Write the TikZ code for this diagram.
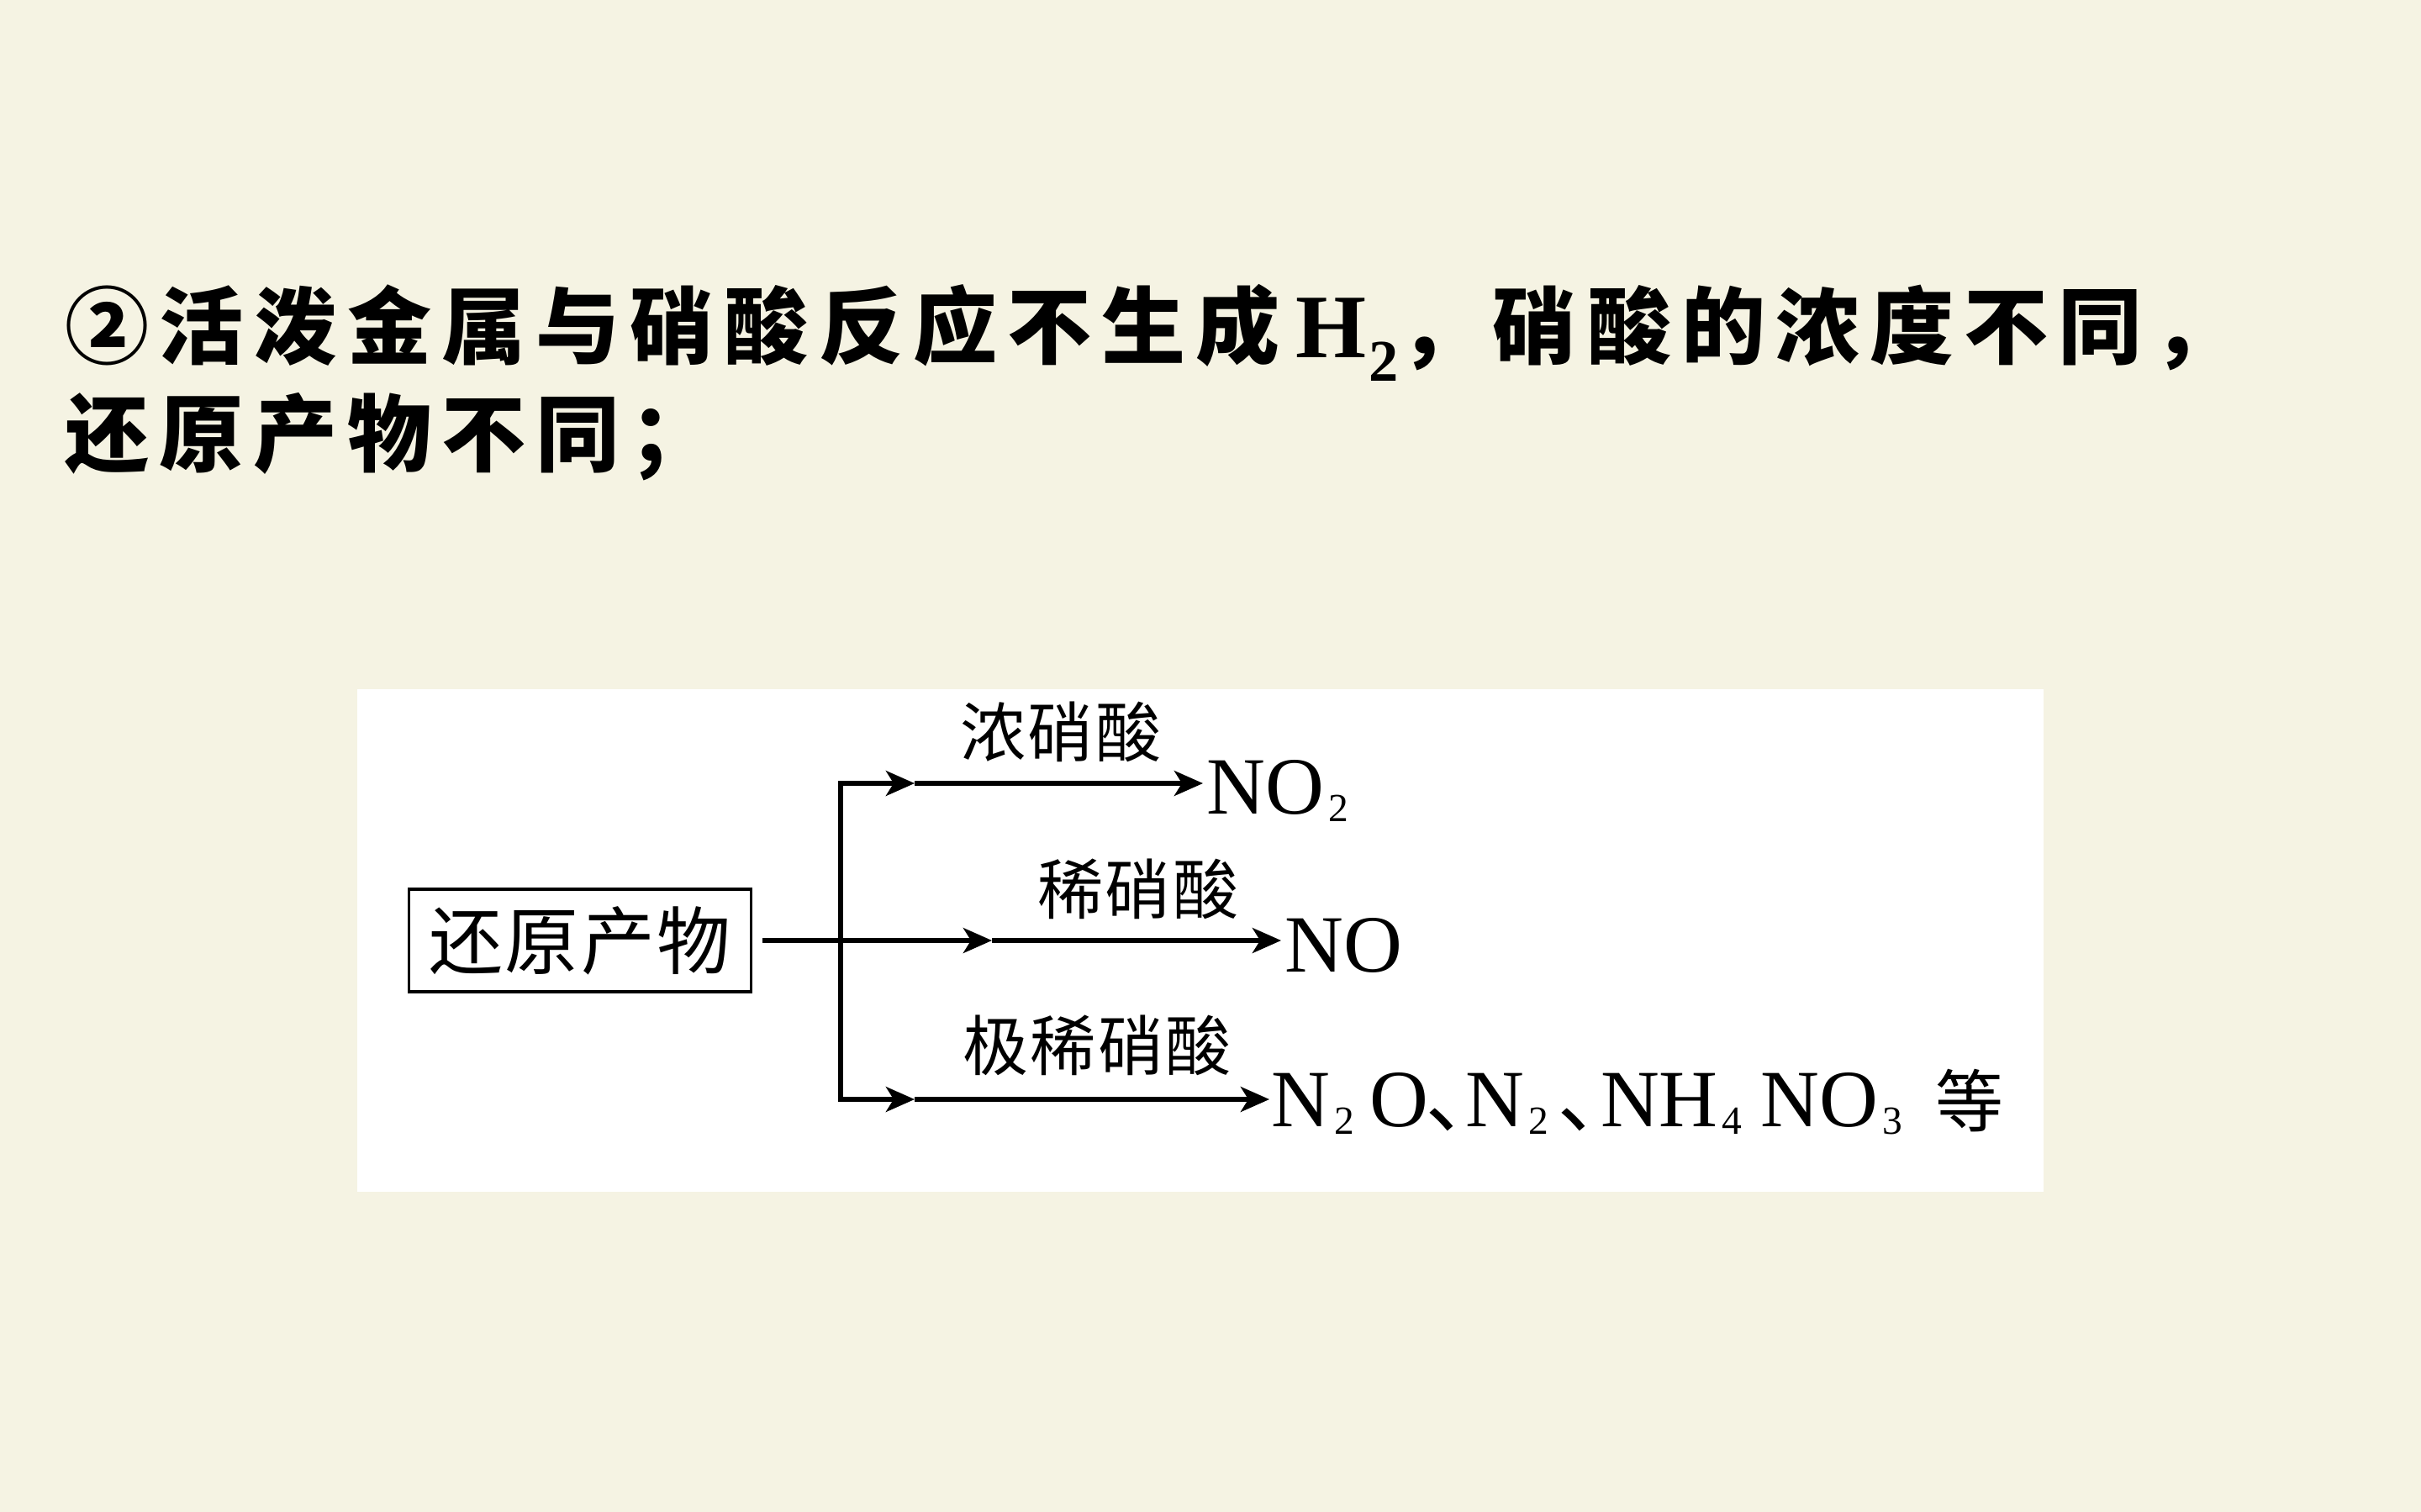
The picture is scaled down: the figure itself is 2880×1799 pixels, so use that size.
\documentclass[tikz,border=0pt]{standalone}
\usepackage{fontspec}
\setmainfont{Liberation Serif}
\newfontfamily\cjk{Noto Sans CJK SC}
\newfontfamily\cjkT[LetterSpace=12,BoldFont={Noto Sans CJK SC Black}]{Noto Sans CJK SC}
\newfontfamily\cjkL[LetterSpace=3]{Noto Sans CJK SC}
\usetikzlibrary{arrows.meta}
\definecolor{bgcream}{RGB}{245,243,227}
\newcommand\chsub[1]{\kern1.5pt\raisebox{-2.6pt}{\fontsize{13.5}{14}\selectfont #1}}
\tikzset{
  ln/.style={line width=1.45pt},
  tipped/.style={ln,-{Stealth[length=9.7pt,width=8.5pt,inset=2.6pt]}},
  lbl/.style={inner sep=0pt,font=\cjkL\fontsize{22.2}{24}\selectfont},
  chem/.style={inner sep=0pt,anchor=base west,font=\fontsize{27.5}{30}\selectfont},
  ttl/.style={inner sep=0pt,anchor=base west}
}
\begin{document}
\begin{tikzpicture}[x=0.01cm,y=-0.01cm]
\fill[bgcream] (0,0) rectangle (2880,1799);
\useasboundingbox (0,0) rectangle (2880,1799);
% title
\node[ttl] (t1) at (77,425) {{\cjkT\bfseries\fontsize{28.45}{30}\selectfont ②活泼金属与硝酸反应不生成}\kern5.4pt{\bfseries\fontsize{30.7}{32}\selectfont H\kern1pt\raisebox{-8.2pt}{\fontsize{20}{22}\selectfont 2}}{\cjkT\bfseries\fontsize{28.45}{30}\selectfont ，硝酸的浓度不同，}};
\node[ttl] (t2) at (77,553) {\cjkT\bfseries\fontsize{28.45}{30}\selectfont 还原产物不同；};
% white panel
\fill[white] (425,820) rectangle (2431,1418);
% box
\node[draw,line width=0.9pt,minimum width=4.06cm,minimum height=1.22cm,inner sep=0pt,
      font=\cjkL\fontsize{25}{27}\selectfont] (box) at (690,1119) {还原产物};
% coordinates
\coordinate (vt) at (1000,932);
\coordinate (vb) at (1000,1308);
\coordinate (tm) at (1088,932);
\coordinate (te) at (1431,932);
\coordinate (ms) at (907,1119);
\coordinate (mm) at (1180,1119);
\coordinate (me) at (1524,1119);
\coordinate (bm) at (1088,1308);
\coordinate (be) at (1510,1308);
% lines
\draw[ln,line cap=rect] (vt) -- (vb);
\draw[tipped] (vt) -- (tm);
\draw[tipped] (tm) -- (te);
\draw[tipped] (ms) -- (mm);
\draw[tipped] (mm) -- (me);
\draw[tipped] (vb) -- (bm);
\draw[tipped] (bm) -- (be);
% labels
\node[lbl] (l1) at (1262,871) {浓硝酸};
\node[lbl] (l2) at (1354,1058) {稀硝酸};
\node[lbl] (l3) at (1305,1244) {极稀硝酸};
% products
\node[chem] (p1) at (1435,968) {NO\chsub{2}};
\node[chem] (p2) at (1528,1156) {NO};
\node[chem] (p3) at (1512,1340) {N\chsub{2}\kern5pt O{\cjk ､}\kern-1pt N\chsub{2}\kern3.7pt{\cjk ､}NH\chsub{4}\kern6.2pt NO\chsub{3}\kern11.3pt{\cjk\fontsize{23}{25}\selectfont 等}};
\end{tikzpicture}
\end{document}
